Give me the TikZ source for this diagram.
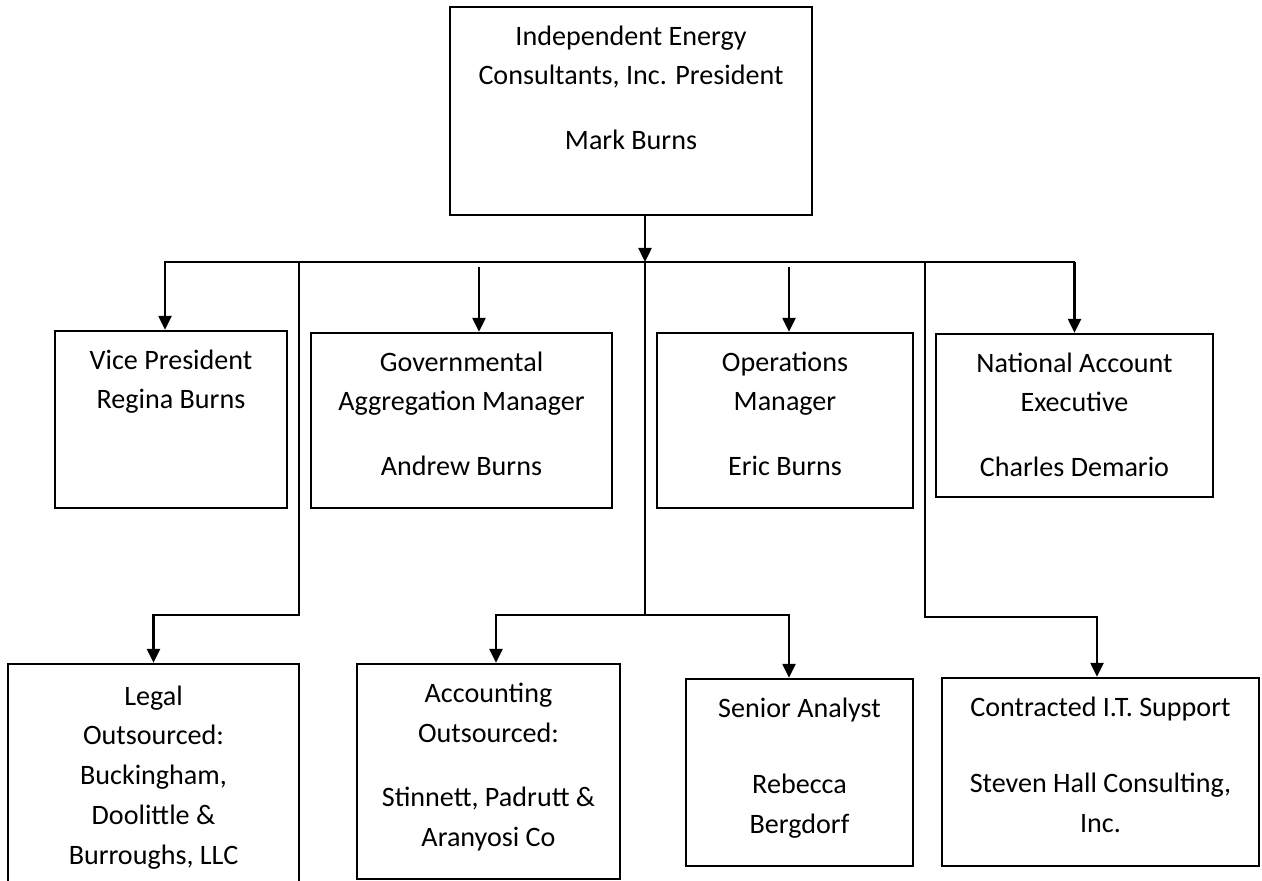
\documentclass[tikz,border=0pt]{standalone}
\usepackage{fontspec}
\setmainfont{Carlito}
\usetikzlibrary{positioning,arrows.meta}

\begin{document}
\begin{tikzpicture}[x=0.02cm,y=-0.02cm,line width=1.4pt]

      \useasboundingbox (0,0) rectangle (1262,881);

      % Boxes
      \begin{scope}[every node/.style={rectangle,draw,inner sep=0pt}]
        \node[minimum width=7.24cm,minimum height=4.16cm] (pres) at (631,111) {};

        \node[minimum width=4.64cm,minimum height=3.54cm] (vp) at (171,419.5) {};
        \node[minimum width=6.02cm,minimum height=3.5cm] (gov) at (461.5,420.5) {};
        \node[minimum width=5.12cm,minimum height=3.5cm] (ops) at (785,420.5) {};
        \node[minimum width=5.54cm,minimum height=3.26cm] (nae) at (1074.5,415.5) {};

        \node[minimum width=5.82cm,minimum height=4.4cm] (legal) at (153.5,774) {};
        \node[minimum width=5.26cm,minimum height=4.3cm] (acc) at (488.5,771.5) {};
        \node[minimum width=4.54cm,minimum height=3.74cm] (sen) at (799.5,772.5) {};
        \node[minimum width=6.34cm,minimum height=3.76cm] (itc) at (1100.5,772) {};
      \end{scope}

      % Texts
      \begin{scope}[every node/.style={align=center,inner sep=0pt,font=\fontsize{16}{22.76}\selectfont}]
        \node[below=0.2cm of pres.north] (pres-t) {\strut Independent Energy\\Consultants, Inc. President\\[0.5cm]Mark Burns};

        \node[below=0.2cm of vp.north] (vp-t) {\strut Vice President\\Regina Burns};
        \node[below=0.2cm of gov.north] (gov-t) {\strut Governmental\\Aggregation Manager\\[0.5cm]Andrew Burns};
        \node[below=0.2cm of ops.north] (ops-t) {\strut Operations\\Manager\\[0.5cm]Eric Burns};
        \node[below=0.2cm of nae.north] (nae-t) {\strut National Account\\Executive\\[0.5cm]Charles Demario};

        \node[below=0.26cm of legal.north] (legal-t) {\strut Legal\\Outsourced:\\Buckingham,\\Doolittle \&\\Burroughs, LLC};
        \node[below=0.2cm of acc.north] (acc-t) {\strut Accounting\\Outsourced:\\[0.5cm]Stinnett, Padrutt \&\\Aranyosi Co};
        \node[below=0.2cm of sen.north] (sen-t) {\strut Senior Analyst\\[0.74cm]Rebecca\\Bergdorf};
        \node[below=0.2cm of itc.north] (itc-t) {\strut Contracted I.T. Support\\[0.74cm]Steven Hall Consulting,\\Inc.};
      \end{scope}

      % Connectors
      \coordinate (top) at (645,262);
      \coordinate (ljoin) at (299,615);
      \coordinate (mjoin) at (645,615);
      \coordinate (rjoin) at (925,617);

      \coordinate (vp-in) at ([xshift=-0.12cm]vp.north);
      \coordinate (gov-in) at ([xshift=0.35cm]gov.north);
      \coordinate (ops-in) at ([xshift=0.08cm]ops.north);
      \coordinate (acc-in) at ([xshift=0.15cm]acc.north);
      \coordinate (sen-in) at ([xshift=-0.21cm]sen.north);
      \coordinate (itc-in) at ([xshift=-0.07cm]itc.north);

      \begin{scope}[-{Triangle[length=0.28cm,width=0.26cm]}]
        \draw (pres.south -| top) -- (top);
        \draw (nae.north |- top) -- (vp-in |- top) -- (vp-in);
        \draw (nae.north |- top) -- (nae.north);
        \draw[shorten <=0.1cm] (gov-in |- top) -- (gov-in);
        \draw[shorten <=0.1cm] (ops-in |- top) -- (ops-in);

        \draw (ljoin |- top) -- (ljoin) -| (legal.north);
        \draw[-] (top) -- (mjoin);
        \draw (mjoin) -| (acc-in);
        \draw (mjoin) -| (sen-in);
        \draw (rjoin |- top) -- (rjoin) -| (itc-in);
      \end{scope}

\end{tikzpicture}
\end{document}
